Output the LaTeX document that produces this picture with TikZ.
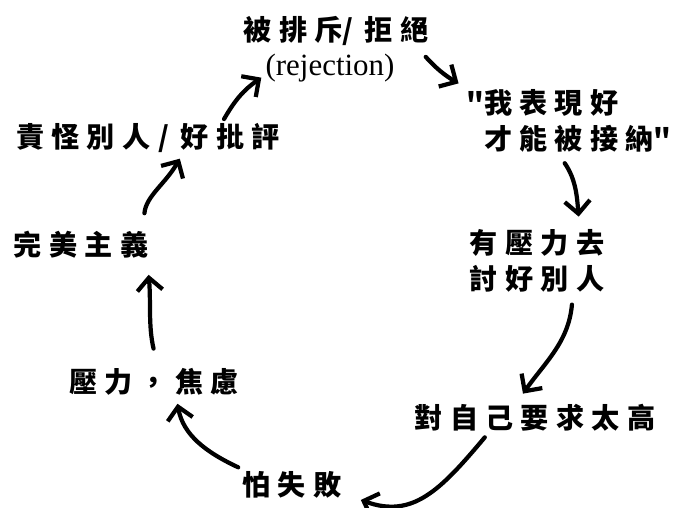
\documentclass[tikz,border=0pt]{standalone}
\usepackage{fontspec}
\usepackage{tikz}
\usetikzlibrary{arrows.meta}
\newfontfamily\cjkfont[LetterSpace=26]{Noto Sans CJK TC}
\newfontfamily\cjkplain{Noto Sans CJK TC}
\newfontfamily\engfont{Liberation Serif}

\begin{document}
\begin{tikzpicture}[x=0.025cm, y=0.025cm,
	idea/.style={font=\cjkfont\bfseries\fontsize{20}{25.5}\selectfont, inner sep=0.1cm},
	cycle/.style={line width=3pt, line cap=round, -{Straight Barb[length=9pt,width=18pt]}}]
	%%%%% START %%%%%
	\useasboundingbox[fill=white] (0,0) rectangle (676,-507);
	
	\node[idea] (reject) at (336,-31) {被排斥{\cjkplain/\hspace{8pt}}拒絕};
	\node[idea, font=\engfont\fontsize{22}{24}\selectfont] (rejectEn) at (330,-68) {(rejection)};
	\node[idea, align=left] (perform) at (569,-121) {{\cjkplain"}我表現好\\\phantom{\cjkplain"}才能被接納{\cjkplain"}};
	\node[idea, align=center] (please) at (537,-261) {有壓力去\\討好別人};
	\node[idea] (demand) at (535,-418) {對自己要求太高};
	\node[idea] (fail) at (292,-485) {怕失敗};
	\node[idea] (anxiety) at (154,-382) {壓力，焦慮};
	\node[idea] (perfect) at (81,-245) {完美主義};
	\node[idea] (blame) at (148,-138) {責怪別人\hspace{6pt}{\cjkplain/\hspace{8pt}}好批評};
	
	\draw[cycle] (blame.14) to[out=60,in=215] (rejectEn.188);
	\draw[cycle, shorten <=0.7cm, shorten >=0.1cm] (rejectEn.north east) to[out=-15,in=150] (perform.north west);
	\draw[cycle, shorten <=0.2cm, shorten >=0.22cm] (perform.-104) to[out=-55,in=95] (please.40);
	\draw[cycle, shorten <=0.2cm, shorten >=0.2cm] (please.-45) to[out=-95,in=55] (demand.133);
	\draw[cycle, shorten <=0.05cm, shorten >=0.4cm] (demand.200) to[out=-130,in=-20,looseness=1.2] (fail.-10);
	\draw[cycle, shorten >=0.1cm] (fail.north west) to[out=155,in=-80] (anxiety.-38);
	\draw[cycle, shorten <=0.4cm, shorten >=0.3cm] (anxiety.80) to[out=103,in=-85] (perfect.-15);
	\draw[cycle, shorten <=0.35cm, shorten >=0.05cm] (perfect.16) to[out=85,in=-120] (blame.-30);
	%%%%% END %%%%%
\end{tikzpicture}
\end{document}
